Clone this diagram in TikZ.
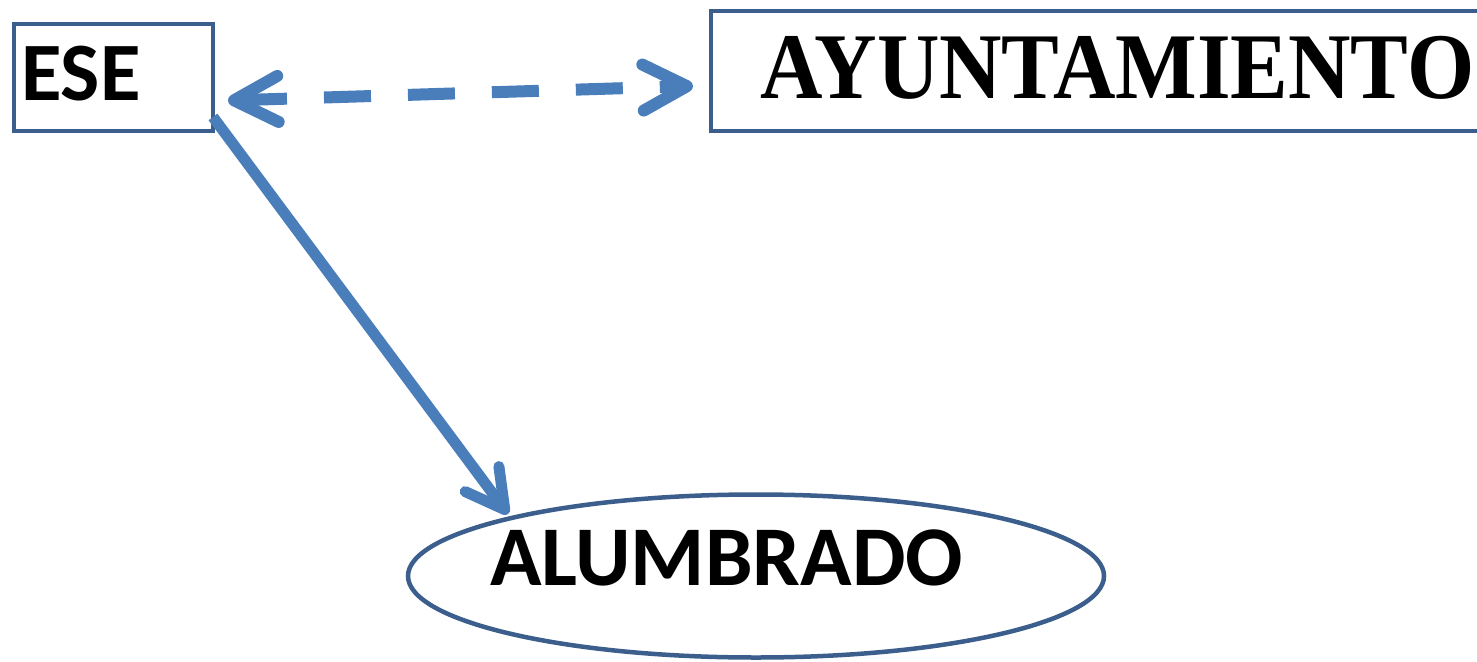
\documentclass[tikz,border=0pt]{standalone}
\usepackage{fontspec}
\newfontfamily\calfont{Carlito}
\newfontfamily\timesfont{Liberation Serif}
\usetikzlibrary{arrows.meta,calc,shapes.geometric}
\definecolor{boxblue}{HTML}{3B5E8C}
\definecolor{arrblue}{HTML}{4A7EBB}
\begin{document}
\begin{tikzpicture}[x=1pt,y=-1pt,
  boxstyle/.style={draw=boxblue,line width=4.5pt,fill=white,inner sep=0pt,outer sep=0pt},
  lbl/.style={inner sep=0pt,outer sep=0pt,anchor=base west,text=black},
  conn/.style={draw=arrblue,line width=11pt}]
\useasboundingbox (0,0) rectangle (1477,661);
\clip (0,0) rectangle (1477,661);
\node[boxstyle,minimum width=199pt,minimum height=107pt] (ese) at (113.5,77.5) {};
\node[lbl,font=\calfont\bfseries\fontsize{83}{83}\selectfont] (esetext) at (21,100) {ESE};
\node[boxstyle,minimum width=800pt,minimum height=120pt,anchor=north west] (ayu) at (711,11) {};
\node[lbl,font=\timesfont\bfseries\fontsize{94}{94}\selectfont,xscale=0.92,transform shape] (ayutext) at (760,98) {AYUNTAMIENTO};
\node[draw=boxblue,line width=4.5pt,ellipse,minimum width=696pt,minimum height=163pt,inner sep=0pt] (alu) at (756,576) {};
\node[lbl,font=\calfont\bfseries\fontsize{85}{85}\selectfont] (alutext) at (490,585) {ALUMBRADO};
\draw[conn,line width=12pt,dash pattern=on 47pt off 37pt,
  {Straight Barb[length=44pt,width=46pt,round]}-{Straight Barb[length=44pt,width=46pt,round]}]
  ($(ese.east)+(15,23)$) -- ($(ayu.west)+(-18,15)$);
\draw[conn,-{Straight Barb[length=38pt,width=42pt,round]}]
  ($(ese.south east)+(0,-14)$) -- ($(alu.center)+(-248,-62)$);
\end{tikzpicture}
\end{document}
